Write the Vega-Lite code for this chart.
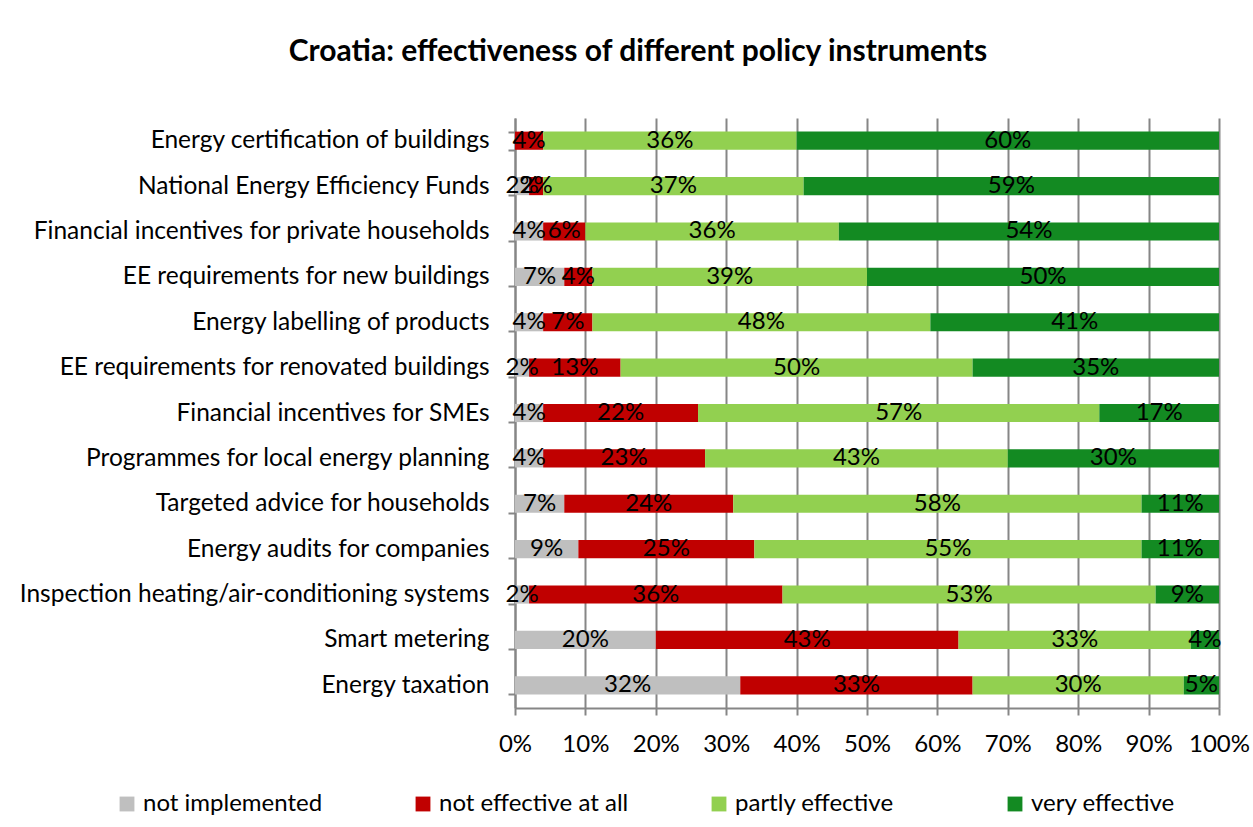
{
  "$schema": "https://vega.github.io/schema/vega-lite/v6.json",
  "width": 704,
  "height": 590,
  "autosize": {"type": "none"},
  "padding": {"left": 515, "top": 118, "right": 34, "bottom": 119},
  "background": "white",
  "config": {"font": "Lato", "view": {"stroke": null}},
  "title": {"text": "Croatia: effectiveness of different policy instruments", "fontSize": 30, "fontWeight": "bold", "font": "Lato", "color": "black", "anchor": "middle", "frame": "group", "dx": -229, "offset": 38},
  "data": {"values": [
    {"task": "Energy certification of buildings", "cat": "not implemented", "o": 1, "v": 0},
    {"task": "Energy certification of buildings", "cat": "not effective at all", "o": 2, "v": 4},
    {"task": "Energy certification of buildings", "cat": "partly effective", "o": 3, "v": 36},
    {"task": "Energy certification of buildings", "cat": "very effective", "o": 4, "v": 60},
    {"task": "National Energy Efficiency Funds", "cat": "not implemented", "o": 1, "v": 2},
    {"task": "National Energy Efficiency Funds", "cat": "not effective at all", "o": 2, "v": 2},
    {"task": "National Energy Efficiency Funds", "cat": "partly effective", "o": 3, "v": 37},
    {"task": "National Energy Efficiency Funds", "cat": "very effective", "o": 4, "v": 59},
    {"task": "Financial incentives for private households", "cat": "not implemented", "o": 1, "v": 4},
    {"task": "Financial incentives for private households", "cat": "not effective at all", "o": 2, "v": 6},
    {"task": "Financial incentives for private households", "cat": "partly effective", "o": 3, "v": 36},
    {"task": "Financial incentives for private households", "cat": "very effective", "o": 4, "v": 54},
    {"task": "EE requirements for new buildings", "cat": "not implemented", "o": 1, "v": 7},
    {"task": "EE requirements for new buildings", "cat": "not effective at all", "o": 2, "v": 4},
    {"task": "EE requirements for new buildings", "cat": "partly effective", "o": 3, "v": 39},
    {"task": "EE requirements for new buildings", "cat": "very effective", "o": 4, "v": 50},
    {"task": "Energy labelling of products", "cat": "not implemented", "o": 1, "v": 4},
    {"task": "Energy labelling of products", "cat": "not effective at all", "o": 2, "v": 7},
    {"task": "Energy labelling of products", "cat": "partly effective", "o": 3, "v": 48},
    {"task": "Energy labelling of products", "cat": "very effective", "o": 4, "v": 41},
    {"task": "EE requirements for renovated buildings", "cat": "not implemented", "o": 1, "v": 2},
    {"task": "EE requirements for renovated buildings", "cat": "not effective at all", "o": 2, "v": 13},
    {"task": "EE requirements for renovated buildings", "cat": "partly effective", "o": 3, "v": 50},
    {"task": "EE requirements for renovated buildings", "cat": "very effective", "o": 4, "v": 35},
    {"task": "Financial incentives for SMEs", "cat": "not implemented", "o": 1, "v": 4},
    {"task": "Financial incentives for SMEs", "cat": "not effective at all", "o": 2, "v": 22},
    {"task": "Financial incentives for SMEs", "cat": "partly effective", "o": 3, "v": 57},
    {"task": "Financial incentives for SMEs", "cat": "very effective", "o": 4, "v": 17},
    {"task": "Programmes for local energy planning", "cat": "not implemented", "o": 1, "v": 4},
    {"task": "Programmes for local energy planning", "cat": "not effective at all", "o": 2, "v": 23},
    {"task": "Programmes for local energy planning", "cat": "partly effective", "o": 3, "v": 43},
    {"task": "Programmes for local energy planning", "cat": "very effective", "o": 4, "v": 30},
    {"task": "Targeted advice for households", "cat": "not implemented", "o": 1, "v": 7},
    {"task": "Targeted advice for households", "cat": "not effective at all", "o": 2, "v": 24},
    {"task": "Targeted advice for households", "cat": "partly effective", "o": 3, "v": 58},
    {"task": "Targeted advice for households", "cat": "very effective", "o": 4, "v": 11},
    {"task": "Energy audits for companies", "cat": "not implemented", "o": 1, "v": 9},
    {"task": "Energy audits for companies", "cat": "not effective at all", "o": 2, "v": 25},
    {"task": "Energy audits for companies", "cat": "partly effective", "o": 3, "v": 55},
    {"task": "Energy audits for companies", "cat": "very effective", "o": 4, "v": 11},
    {"task": "Inspection heating/air-conditioning systems", "cat": "not implemented", "o": 1, "v": 2},
    {"task": "Inspection heating/air-conditioning systems", "cat": "not effective at all", "o": 2, "v": 36},
    {"task": "Inspection heating/air-conditioning systems", "cat": "partly effective", "o": 3, "v": 53},
    {"task": "Inspection heating/air-conditioning systems", "cat": "very effective", "o": 4, "v": 9},
    {"task": "Smart metering", "cat": "not implemented", "o": 1, "v": 20},
    {"task": "Smart metering", "cat": "not effective at all", "o": 2, "v": 43},
    {"task": "Smart metering", "cat": "partly effective", "o": 3, "v": 33},
    {"task": "Smart metering", "cat": "very effective", "o": 4, "v": 4},
    {"task": "Energy taxation", "cat": "not implemented", "o": 1, "v": 32},
    {"task": "Energy taxation", "cat": "not effective at all", "o": 2, "v": 33},
    {"task": "Energy taxation", "cat": "partly effective", "o": 3, "v": 30},
    {"task": "Energy taxation", "cat": "very effective", "o": 4, "v": 5}
  ]},
  "transform": [
    {"stack": "v", "groupby": ["task"], "sort": [{"field": "o", "order": "ascending"}], "offset": "normalize", "as": ["x0", "x1"]},
    {"calculate": "(datum.x0 + datum.x1) / 2", "as": "xm"},
    {"calculate": "datum.v + '%'", "as": "lbl"}
  ],
  "encoding": {
    "y": {"field": "task", "type": "nominal", "sort": null, "title": null,
      "scale": {"paddingInner": 0.6, "paddingOuter": 0.3},
      "axis": {"labelFontSize": 24.5, "labelColor": "black", "labelFont": "Lato", "labelLimit": 520, "tickBand": "extent", "tickSize": 7, "tickColor": "#868686", "tickWidth": 2, "domainColor": "#868686", "domainWidth": 2, "labelPadding": 19}}
  },
  "layer": [
    {
      "mark": {"type": "bar", "stroke": null},
      "encoding": {
        "x": {"field": "x0", "type": "quantitative", "scale": {"domain": [0, 1], "nice": false}, "title": null,
          "axis": {"format": ".0%", "values": [0, 0.1, 0.2, 0.3, 0.4, 0.5, 0.6, 0.7, 0.8, 0.9, 1], "labelFontSize": 24, "labelColor": "black", "labelFont": "Lato", "tickSize": 7, "tickColor": "#868686", "tickWidth": 2, "domainColor": "#868686", "domainWidth": 2, "grid": true, "gridColor": "#868686", "gridWidth": 2, "labelPadding": 17, "labelFlush": false}},
        "x2": {"field": "x1"},
        "color": {"field": "cat", "type": "nominal", "title": null,
          "scale": {"domain": ["not implemented", "not effective at all", "partly effective", "very effective"], "range": ["#BFBFBF", "#C00000", "#92D050", "#138A22"]},
          "legend": {"orient": "none", "legendX": -400, "legendY": 674, "direction": "horizontal", "columns": 4, "gridAlign": "all", "columnPadding": 78, "labelFontSize": 24, "labelFont": "Lato", "labelColor": "black", "symbolType": "square", "symbolSize": 220, "symbolStrokeWidth": 0, "labelOffset": 4, "labelLimit": 300}}
      }
    },
    {
      "transform": [{"filter": "datum.v > 0"}],
      "mark": {"type": "text", "fontSize": 24, "font": "Lato", "color": "black", "align": "center", "baseline": "middle"},
      "encoding": {
        "x": {"field": "xm", "type": "quantitative"},
        "text": {"field": "lbl", "type": "nominal"}
      }
    }
  ]
}
